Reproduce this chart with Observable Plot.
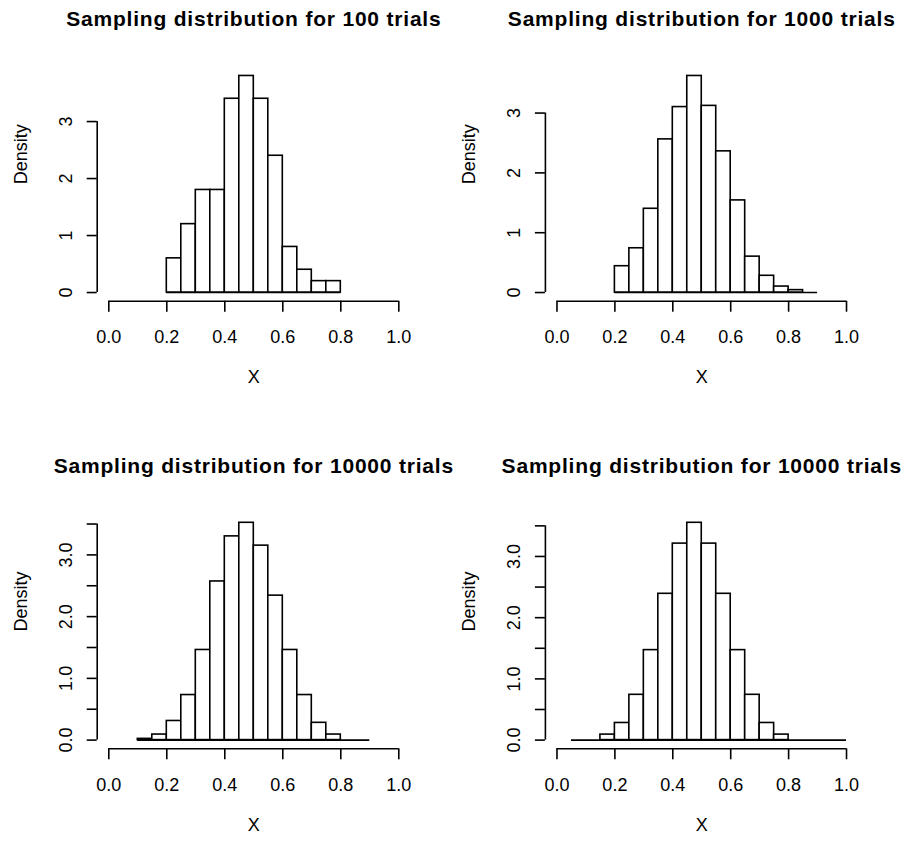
<!DOCTYPE html>
<html>
<head>
<meta charset="utf-8">
<script src="https://cdn.jsdelivr.net/npm/d3@7"></script>
<script src="https://cdn.jsdelivr.net/npm/@observablehq/plot@0.6"></script>
<style>
  html, body { margin: 0; padding: 0; background: #fff; }
  #root { position: relative; width: 904px; height: 842px; overflow: hidden; background: #fff; }
  #root svg { position: absolute; overflow: visible; }
</style>
</head>
<body>
<div id="root"></div>
<script>
// ---- Data ----
const titles = [
  "Sampling distribution for 100 trials",
  "Sampling distribution for 1000 trials",
  "Sampling distribution for 10000 trials",
  "Sampling distribution for 10000 trials"
];
const xTicks = [0, 0.2, 0.4, 0.6, 0.8, 1.0];

const breaks1 = [0.20, 0.25, 0.30, 0.35, 0.40, 0.45, 0.50, 0.55, 0.60, 0.65, 0.70, 0.75, 0.80];
const dens1   = [0.60, 1.20, 1.80, 1.80, 3.40, 3.80, 3.40, 2.40, 0.80, 0.40, 0.20, 0.20];
const yTicks1 = [0, 1, 2, 3];

const breaks2 = [0.20, 0.25, 0.30, 0.35, 0.40, 0.45, 0.50, 0.55, 0.60, 0.65, 0.70, 0.75, 0.80, 0.85, 0.90];
const dens2   = [0.44, 0.74, 1.40, 2.56, 3.10, 3.62, 3.12, 2.36, 1.54, 0.60, 0.28, 0.10, 0.04, 0.00];
const yTicks2 = [0, 1, 2, 3];

const breaks3 = [0.10, 0.15, 0.20, 0.25, 0.30, 0.35, 0.40, 0.45, 0.50, 0.55, 0.60, 0.65, 0.70, 0.75, 0.80, 0.85, 0.90];
const dens3   = [0.02, 0.09, 0.31, 0.73, 1.46, 2.57, 3.30, 3.52, 3.15, 2.34, 1.46, 0.73, 0.28, 0.09, 0.00, 0.00];
const yTicks3 = [0, 0.5, 1, 1.5, 2, 2.5, 3, 3.5];

const breaks4 = [0.05, 0.10, 0.15, 0.20, 0.25, 0.30, 0.35, 0.40, 0.45, 0.50, 0.55, 0.60, 0.65, 0.70, 0.75, 0.80, 0.85, 0.90, 0.95, 1.00];
const dens4   = [0.00, 0.00, 0.09, 0.28, 0.74, 1.47, 2.39, 3.21, 3.55, 3.21, 2.39, 1.47, 0.74, 0.28, 0.09, 0.00, 0.00, 0.00, 0.00];
const yTicks4 = [0, 0.5, 1, 1.5, 2, 2.5, 3, 3.5];

// ---- Layout ----
const FONT = "'Liberation Sans', Arial, Helvetica, sans-serif";
const intFmt = d => String(d);
const oneDecIntOnly = d => Number.isInteger(d) ? d.toFixed(1) : "";

const panels = [
  {title: titles[0], breaks: breaks1, dens: dens1, yTicks: yTicks1, fmt: intFmt,
   left: 0,   top: 0,   mL: 96.7, mR: 42.1, mT: 66.8, mB: 120.3},
  {title: titles[1], breaks: breaks2, dens: dens2, yTicks: yTicks2, fmt: intFmt,
   left: 452, top: 0,   mL: 92.9, mR: 46.4, mT: 66.8, mB: 120.3},
  {title: titles[2], breaks: breaks3, dens: dens3, yTicks: yTicks3, fmt: oneDecIntOnly,
   left: 0,   top: 421, mL: 96.7, mR: 42.1, mT: 92.6, mB: 93.7},
  {title: titles[3], breaks: breaks4, dens: dens4, yTicks: yTicks4, fmt: oneDecIntOnly,
   left: 452, top: 421, mL: 92.9, mR: 46.4, mT: 92.6, mB: 93.7}
];

const SW = 1.6;
const root = document.getElementById("root");

for (const p of panels) {
  const rows = p.dens.map((d, i) => ({x1: p.breaks[i], x2: p.breaks[i + 1], y: d}));
  const ymax = d3.max(p.dens);
  const yLo = -0.04 * ymax, yHi = 1.04 * ymax;
  const lastTick = p.yTicks[p.yTicks.length - 1];
  const chart = Plot.plot({
    width: 452,
    height: 421,
    marginLeft: p.mL,
    marginRight: p.mR,
    marginTop: p.mT,
    marginBottom: p.mB,
    x: {domain: [-0.04, 1.04], axis: null},
    y: {domain: [yLo, yHi], axis: null},
    style: {fontFamily: FONT, fontSize: "18px", color: "black", background: "transparent", overflow: "visible"},
    marks: [
      // baseline for empty bins
      Plot.ruleY([0], {x1: p.breaks[0], x2: p.breaks[p.breaks.length - 1], stroke: "black", strokeWidth: SW}),
      // histogram bars
      Plot.rect(rows.filter(r => r.y > 0), {x1: "x1", x2: "x2", y1: 0, y2: "y", fill: "white", stroke: "black", strokeWidth: SW}),
      // R-style x axis
      Plot.ruleY([yLo], {x1: xTicks[0], x2: xTicks[xTicks.length - 1], stroke: "black", strokeWidth: SW}),
      Plot.axisX({ticks: xTicks, tickSize: 11, tickPadding: 18, tickFormat: d3.format(".1f"), strokeWidth: SW, label: null, fontSize: 18}),
      // R-style y axis
      Plot.ruleX([-0.04], {y1: 0, y2: lastTick, stroke: "black", strokeWidth: SW}),
      Plot.axisY({ticks: p.yTicks, tickSize: 10, tickPadding: 15, tickRotate: -90, tickFormat: p.fmt, strokeWidth: SW, label: null, fontSize: 18}),
      // titles and axis labels
      Plot.text([p.title], {frameAnchor: "top", dy: -41, lineAnchor: "bottom", fontWeight: "bold", fontSize: 21, fill: "black"}),
      Plot.text(["Density"], {frameAnchor: "left", dx: -76, rotate: -90, fontSize: 18, fill: "black"}),
      Plot.text(["X"], {frameAnchor: "bottom", dy: 82, fontSize: 18, fill: "black"})
    ]
  });
  chart.style.left = p.left + "px";
  chart.style.top = p.top + "px";
  root.appendChild(chart);
}
// letter-spacing on titles to match R's wider bitmap rendering
root.querySelectorAll("text[font-weight='bold'], g[font-weight='bold'] text").forEach(t => t.style.letterSpacing = "0.8px");
</script>
</body>
</html>
